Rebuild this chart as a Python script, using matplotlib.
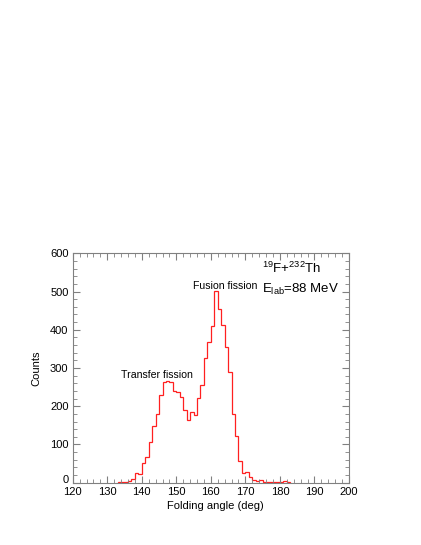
import numpy as np
import matplotlib
matplotlib.use("Agg")
import matplotlib.pyplot as plt
import matplotlib.transforms as mtransforms
from matplotlib.ticker import MultipleLocator

plt.rcParams['font.family'] = ['Liberation Sans', 'DejaVu Sans']
plt.rcParams['mathtext.fontset'] = 'custom'
plt.rcParams['mathtext.rm'] = 'Liberation Sans'
plt.rcParams['mathtext.it'] = 'Liberation Sans:italic'

# Histogram data: bin edges (deg) and counts
bin_edges = list(range(133, 184))
counts = [1, 1, 3, 5, 9, 26, 24, 51, 66, 107,
          149, 179, 229, 264, 267, 264, 241, 238, 225, 190,
          164, 184, 177, 221, 256, 327, 369, 411, 501, 454,
          412, 354, 289, 181, 122, 58, 25, 27, 16, 8,
          4, 6, 3, 2, 3, 2, 2, 3, 4, 2]

xlim = (120, 200)
ylim = (0, 600)
x_major = 10
x_minor = 2
y_major = 100
y_minor = 20

fig = plt.figure(figsize=(4.21, 5.45), dpi=100)
ax = fig.add_axes([0.1727, 0.1143, 0.6563, 0.4209])

ax.stairs(counts, bin_edges, color='#ff2020', linewidth=0.9)

ax.set_xlim(*xlim)
ax.set_ylim(*ylim)
ax.xaxis.set_major_locator(MultipleLocator(x_major))
ax.xaxis.set_minor_locator(MultipleLocator(x_minor))
ax.yaxis.set_major_locator(MultipleLocator(y_major))
ax.yaxis.set_minor_locator(MultipleLocator(y_minor))

axis_col = '0.5'
for s in ax.spines.values():
    s.set_color(axis_col)
    s.set_linewidth(0.8)
ax.tick_params(which='both', direction='in', top=True, right=True,
               color=axis_col, labelsize=8, labelcolor='black', pad=3)
ax.tick_params(which='major', length=5, width=0.8)
ax.tick_params(which='minor', length=3, width=0.6)

ax.set_xlabel('Folding angle (deg)', fontsize=8)
ax.xaxis.set_label_coords(0.518, -0.078)
ax.set_ylabel('Counts', fontsize=8, labelpad=6)

# nudge the "0" y tick label up a little so it doesn't collide with "120"
fig.canvas.draw()
for lbl in ax.get_yticklabels():
    if lbl.get_text() == '0':
        lbl.set_transform(lbl.get_transform() +
                          mtransforms.ScaledTranslation(0, 3 / 72, fig.dpi_scale_trans))

ax.text(144.4, 282, 'Transfer fission', fontsize=7.6, ha='center', va='center')
ax.text(164.1, 514, 'Fusion fission', fontsize=7.6, ha='center', va='center')
ax.text(174.8, 561, r'$^{19}$F+$^{232}$Th', fontsize=9.5,
        ha='left', va='center')
ax.text(174.8, 506, r'E$_{\mathrm{lab}}$=88 MeV', fontsize=9.5,
        ha='left', va='center')

fig.savefig('out.png', dpi=100)
